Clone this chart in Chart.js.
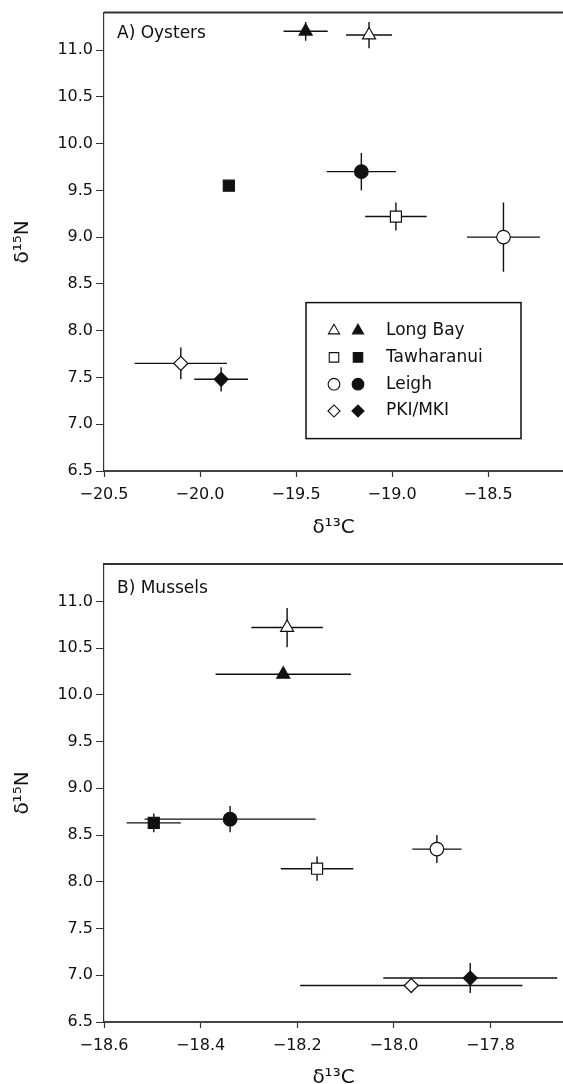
<!DOCTYPE html>
<html lang="en">
  <head>
    <meta charset="UTF-8" />
    <title>Stable isotopes: oysters and mussels</title>
    <script src="https://cdn.jsdelivr.net/npm/chart.js@4.4.0/dist/chart.umd.min.js"></script>
    <style>
      html, body {
        margin: 0;
        padding: 0;
        background: #fff;
        width: 563px;
        height: 1084px;
        overflow: hidden;
      }
      canvas {
        display: block;
      }
    </style>
  </head>
  <body>
    <canvas id="oysters" width="563" height="545"></canvas>
    <canvas id="mussels" width="563" height="549"></canvas>

    <script>
      // sites, same order in every array below
      const sites = ["Long Bay", "Tawharanui", "Leigh", "PKI/MKI"];
      const shapes = ["triangle", "rect", "circle", "rectRot"];
      const sizes = [7.5, 7.8, 6.8, 7];

      // A) Oysters - open symbols
      const oysOpenC = [-19.12, -18.98, -18.42, -20.1];
      const oysOpenN = [11.16, 9.22, 9.0, 7.65];
      const oysOpenCsd = [0.12, 0.16, 0.19, 0.24];
      const oysOpenNsd = [0.14, 0.15, 0.37, 0.17];
      // A) Oysters - filled symbols
      const oysFillC = [-19.45, -19.85, -19.16, -19.89];
      const oysFillN = [11.2, 9.55, 9.7, 7.48];
      const oysFillCsd = [0.115, 0, 0.18, 0.14];
      const oysFillNsd = [0.1, 0, 0.2, 0.13];

      // B) Mussels - open symbols
      const musOpenC = [-18.221, -18.159, -17.911, -17.964];
      const musOpenN = [10.72, 8.14, 8.35, 6.89];
      const musOpenCsd = [0.074, 0.075, 0.051, 0.23];
      const musOpenNsd = [0.21, 0.13, 0.15, 0];
      // B) Mussels - filled symbols
      const musFillC = [-18.229, -18.497, -18.339, -17.842];
      const musFillN = [10.22, 8.63, 8.67, 6.97];
      const musFillCsd = [0.14, 0.056, 0.177, 0.18];
      const musFillNsd = [0.03, 0.1, 0.14, 0.16];

      // tick labels
      const nTicks = [6.5, 7.0, 7.5, 8.0, 8.5, 9.0, 9.5, 10.0, 10.5, 11.0];
      const oysCTicks = [-20.5, -20.0, -19.5, -19.0, -18.5];
      const musCTicks = [-18.6, -18.4, -18.2, -18.0, -17.8];

      Chart.defaults.font.family = "'DejaVu Sans', sans-serif";
      Chart.defaults.font.size = 16;
      Chart.defaults.color = "#111";

      const ink = "#111";

      function fmt(v) {
        return (v < 0 ? "\u2212" : "") + Math.abs(v).toFixed(1);
      }

      function makeSets(openC, openN, openCsd, openNsd, fillC, fillN, fillCsd, fillNsd) {
        const sets = [];
        sites.forEach((s, i) => {
          sets.push({
            label: s + " (open)",
            data: [{ x: openC[i], y: openN[i], xe: openCsd[i], ye: openNsd[i] }],
            pointStyle: shapes[i],
            pointRadius: sizes[i],
            backgroundColor: "#fff",
            borderColor: ink,
            borderWidth: 1.2,
          });
          sets.push({
            label: s + " (filled)",
            data: [{ x: fillC[i], y: fillN[i], xe: fillCsd[i], ye: fillNsd[i] }],
            pointStyle: shapes[i],
            pointRadius: sizes[i],
            backgroundColor: ink,
            borderColor: ink,
            borderWidth: 1.2,
          });
        });
        return sets;
      }

      // error bars drawn behind the symbols
      const errorBars = {
        id: "errorBars",
        beforeDatasetsDraw(chart) {
          const { ctx, scales } = chart;
          ctx.save();
          ctx.strokeStyle = ink;
          ctx.lineWidth = 1.4;
          chart.data.datasets.forEach((ds) => {
            ds.data.forEach((p) => {
              const px = scales.x.getPixelForValue(p.x);
              const py = scales.y.getPixelForValue(p.y);
              ctx.beginPath();
              if (p.xe) {
                ctx.moveTo(scales.x.getPixelForValue(p.x - p.xe), py);
                ctx.lineTo(scales.x.getPixelForValue(p.x + p.xe), py);
              }
              if (p.ye) {
                ctx.moveTo(px, scales.y.getPixelForValue(p.y - p.ye));
                ctx.lineTo(px, scales.y.getPixelForValue(p.y + p.ye));
              }
              ctx.stroke();
            });
          });
          ctx.restore();
        },
      };

      // top frame line + panel caption + symbol key
      const decor = {
        id: "decor",
        afterDraw(chart, args, opts) {
          const { ctx, chartArea: a } = chart;
          ctx.save();
          ctx.strokeStyle = "#333";
          ctx.lineWidth = 2;
          ctx.beginPath();
          ctx.moveTo(a.left, a.top);
          ctx.lineTo(a.right, a.top);
          ctx.stroke();

          ctx.fillStyle = ink;
          ctx.font = "17px 'DejaVu Sans', sans-serif";
          ctx.textBaseline = "middle";
          ctx.textAlign = "left";
          ctx.fillText(opts.caption, a.left + 13, a.top + opts.captionDy);

          if (opts.key) {
            const bx = a.left + 202, by = a.top + 290, bw = 215, bh = 136;
            ctx.lineWidth = 1.5;
            ctx.strokeStyle = ink;
            ctx.strokeRect(bx, by, bw, bh);
            sites.forEach((s, i) => {
              const ry = by + 28 + i * 26.8;
              const st = { pointStyle: shapes[i], radius: sizes[i] * 0.86, borderWidth: 1.1 };
              ctx.lineWidth = 1.1;
              ctx.fillStyle = "#fff";
              ctx.strokeStyle = ink;
              Chart.helpers.drawPoint(ctx, st, bx + 28, ry);
              ctx.fillStyle = ink;
              Chart.helpers.drawPoint(ctx, st, bx + 52, ry);
              ctx.fillStyle = ink;
              ctx.fillText(s, bx + 80, ry);
            });
          }
          ctx.restore();
        },
      };

      function makeChart(id, sets, xMin, xMax, xTicks, padTop, xHeight, xTitlePad, caption, captionDy, key) {
        return new Chart(document.getElementById(id), {
          type: "scatter",
          data: { datasets: sets },
          plugins: [errorBars, decor],
          options: {
            responsive: false,
            animation: false,
            devicePixelRatio: 1,
            layout: { autoPadding: false, padding: { top: padTop, left: 0, right: 0, bottom: 0 } },
            plugins: {
              legend: { display: false },
              tooltip: { enabled: false },
              decor: { caption: caption, captionDy: captionDy, key: key },
            },
            scales: {
              x: {
                type: "linear",
                min: xMin,
                max: xMax,
                afterBuildTicks: (s) => {
                  s.ticks = xTicks.map((v) => ({ value: v }));
                },
                afterFit: (s) => {
                  s.height = xHeight;
                },
                ticks: { callback: fmt, padding: 8, maxRotation: 0, color: ink },
                grid: { drawOnChartArea: false, tickLength: 6, color: "#333", tickWidth: 1.2 },
                border: { color: "#444", width: 2 },
                title: {
                  display: true,
                  text: "\u03b4\u00b9\u00b3C",
                  font: { size: 20 },
                  color: ink,
                  padding: { top: 0, bottom: xTitlePad },
                },
              },
              y: {
                type: "linear",
                min: 6.5,
                max: 11.4,
                afterBuildTicks: (s) => {
                  s.ticks = nTicks.map((v) => ({ value: v }));
                },
                afterFit: (s) => {
                  s.width = 104;
                },
                ticks: { callback: fmt, padding: 3, color: ink },
                grid: { drawOnChartArea: false, tickLength: 8, color: "#333", tickWidth: 1 },
                border: { color: "#333", width: 1.2 },
                title: {
                  display: true,
                  text: "\u03b4\u00b9\u2075N",
                  font: { size: 20 },
                  color: ink,
                  padding: { top: 11, bottom: 0 },
                },
              },
            },
          },
        });
      }

      makeChart(
        "oysters",
        makeSets(oysOpenC, oysOpenN, oysOpenCsd, oysOpenNsd, oysFillC, oysFillN, oysFillCsd, oysFillNsd),
        -20.5, -18.11, oysCTicks, 12, 74, 5, "A) Oysters", 21, true
      );
      makeChart(
        "mussels",
        makeSets(musOpenC, musOpenN, musOpenCsd, musOpenNsd, musFillC, musFillN, musFillCsd, musFillNsd),
        -18.6, -17.65, musCTicks, 19, 72, 4, "B) Mussels", 25, false
      );
    </script>
  </body>
</html>
